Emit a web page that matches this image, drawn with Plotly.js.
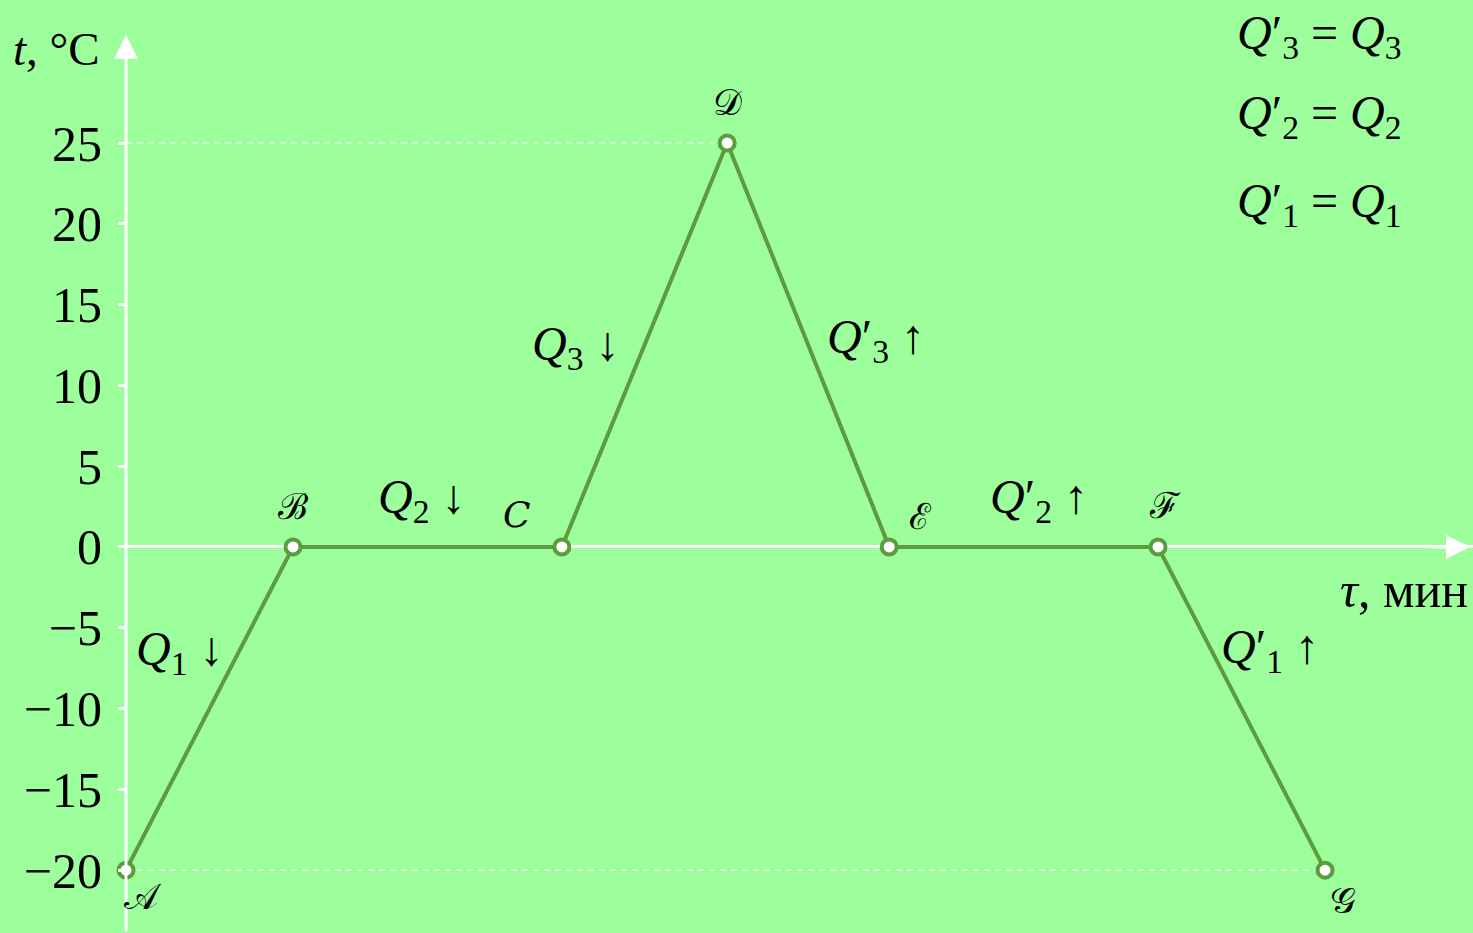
<!DOCTYPE html>
<html>
<head>
<meta charset="utf-8">
<script src="https://cdn.plot.ly/plotly-3.0.1.min.js"></script>
<style>
  html, body { margin: 0; padding: 0; background: #9cff9c; }
  #chart { width: 1473px; height: 933px; }
</style>
</head>
<body>
<div id="chart"></div>
<script>
// === Heating / cooling curve of water ===
const BG = '#9cff9c';
const LINE_COLOR = '#5c9c3c';
const AXIS_COLOR = '#ffffff';
const TEXT_FONT = 'Liberation Serif, DejaVu Serif, serif';

// data: time (arbitrary minutes) and temperature
const pointNames = ['𝒜', 'ℬ', '𝐶', '𝒟', 'ℰ', 'ℱ', '𝒢'];
const tau = [0, 1, 2.61, 3.6, 4.57, 6.18, 7.18];
const temp = [-20, 0, 0, 25, 0, 0, -20];
const yTicks = [-20, -15, -10, -5, 0, 5, 10, 15, 20, 25];
const yTickText = ['−20', '−15', '−10', '−5', '0', '5', '10', '15', '20', '25'];

// segment labels (heat taken away / given)
const segLabels = [
  '<i>Q</i><sub>1</sub> ↓', '<i>Q</i><sub>2</sub> ↓', '<i>Q</i><sub>3</sub> ↓',
  '<i>Q</i>′<sub>3</sub> ↑', '<i>Q</i>′<sub>2</sub> ↑', '<i>Q</i>′<sub>1</sub> ↑'
];
const equalities = [
  '<i>Q</i>′<sub>3</sub> = <i>Q</i><sub>3</sub>',
  '<i>Q</i>′<sub>2</sub> = <i>Q</i><sub>2</sub>',
  '<i>Q</i>′<sub>1</sub> = <i>Q</i><sub>1</sub>'
];

const X_MAX = 8.066;
const Y_MIN = -23.89;
const Y_MAX = 33.85;
const Y_ARROW = 31.7;
const PX_PER_DEG = 933 / (Y_MAX - Y_MIN);

const traces = [
  // dashed helper lines
  { x: [tau[0], tau[3]], y: [temp[3], temp[3]], mode: 'lines',
    line: { color: AXIS_COLOR, width: 1.2, dash: '6px,5px' }, hoverinfo: 'skip' },
  { x: [tau[0], tau[6]], y: [temp[0], temp[6]], mode: 'lines',
    line: { color: AXIS_COLOR, width: 1.2, dash: '6px,5px' }, hoverinfo: 'skip' },
  // main curve
  { x: tau, y: temp, mode: 'lines+markers',
    line: { color: LINE_COLOR, width: 4 },
    marker: { size: 15, color: '#ffffff', line: { color: LINE_COLOR, width: 4 } },
    cliponaxis: false }
];

// point label offsets (pixels, right / down)
const nameOffsets = [[17, 27], [0, -40], [-45, -32], [0, -40], [31, -30], [7, -41], [18, 31]];

const annotations = [];

// axis arrows (y axis line drawn by the arrow itself)
annotations.push({
  x: 0, y: Y_ARROW, ax: 0, ay: (Y_ARROW - Y_MIN) * PX_PER_DEG + 5, showarrow: true,
  arrowhead: 2, arrowsize: 1.6, arrowwidth: 3, arrowcolor: AXIS_COLOR, text: ''
});
annotations.push({
  x: (1470 - 126) / 167, y: 0, ax: -40, ay: 0, showarrow: true, arrowhead: 2, arrowsize: 1.6,
  arrowwidth: 3, arrowcolor: AXIS_COLOR, text: ''
});

pointNames.forEach((n, i) => {
  annotations.push({
    x: tau[i], y: temp[i], text: n, showarrow: false,
    xshift: nameOffsets[i][0], yshift: -nameOffsets[i][1],
    font: { family: TEXT_FONT, size: 36, color: '#000' }
  });
});

// segment labels
const segPos = [[0.32, -6.5], [1.77, 2.9], [2.69, 12.4], [4.49, 12.8], [5.47, 2.9], [6.85, -6.4]];
segLabels.forEach((s, i) => {
  annotations.push({
    x: segPos[i][0], y: segPos[i][1], text: s, showarrow: false,
    font: { family: TEXT_FONT, size: 48, color: '#000' }
  });
});

const eqY = [31.6, 26.7, 21.2];
equalities.forEach((s, i) => {
  annotations.push({
    x: (1320 - 126) / 167, y: eqY[i], text: s, showarrow: false,
    font: { family: TEXT_FONT, size: 48, color: '#000' }
  });
});

// axis titles
annotations.push({
  x: 0, y: 30.8, xanchor: 'right', xshift: -24,
  text: '<i>t</i>, °C', showarrow: false,
  font: { family: TEXT_FONT, size: 47, color: '#000' }
});
annotations.push({
  x: (1404 - 126) / 167, y: -2.66, text: '<i>τ</i>, мин', showarrow: false,
  font: { family: TEXT_FONT, size: 50, color: '#000' }
});

const layout = {
  width: 1473, height: 933,
  paper_bgcolor: BG, plot_bgcolor: BG,
  margin: { l: 126, r: 0, t: 0, b: 0 },
  showlegend: false,
  xaxis: {
    range: [0, X_MAX], showgrid: false, zeroline: false, showticklabels: false,
    showline: false, ticks: ''
  },
  yaxis: {
    range: [Y_MIN, Y_MAX], showgrid: false, zeroline: true,
    zerolinecolor: AXIS_COLOR, zerolinewidth: 3,
    showline: false,
    tickvals: yTicks, ticktext: yTickText, ticks: 'outside', ticklen: 7,
    tickcolor: AXIS_COLOR, tickwidth: 3, ticklabelstandoff: 6,
    tickfont: { family: TEXT_FONT, size: 50, color: '#000' }
  },
  annotations: annotations
};

Plotly.newPlot('chart', traces, layout, { displayModeBar: false, staticPlot: true });
</script>
</body>
</html>
